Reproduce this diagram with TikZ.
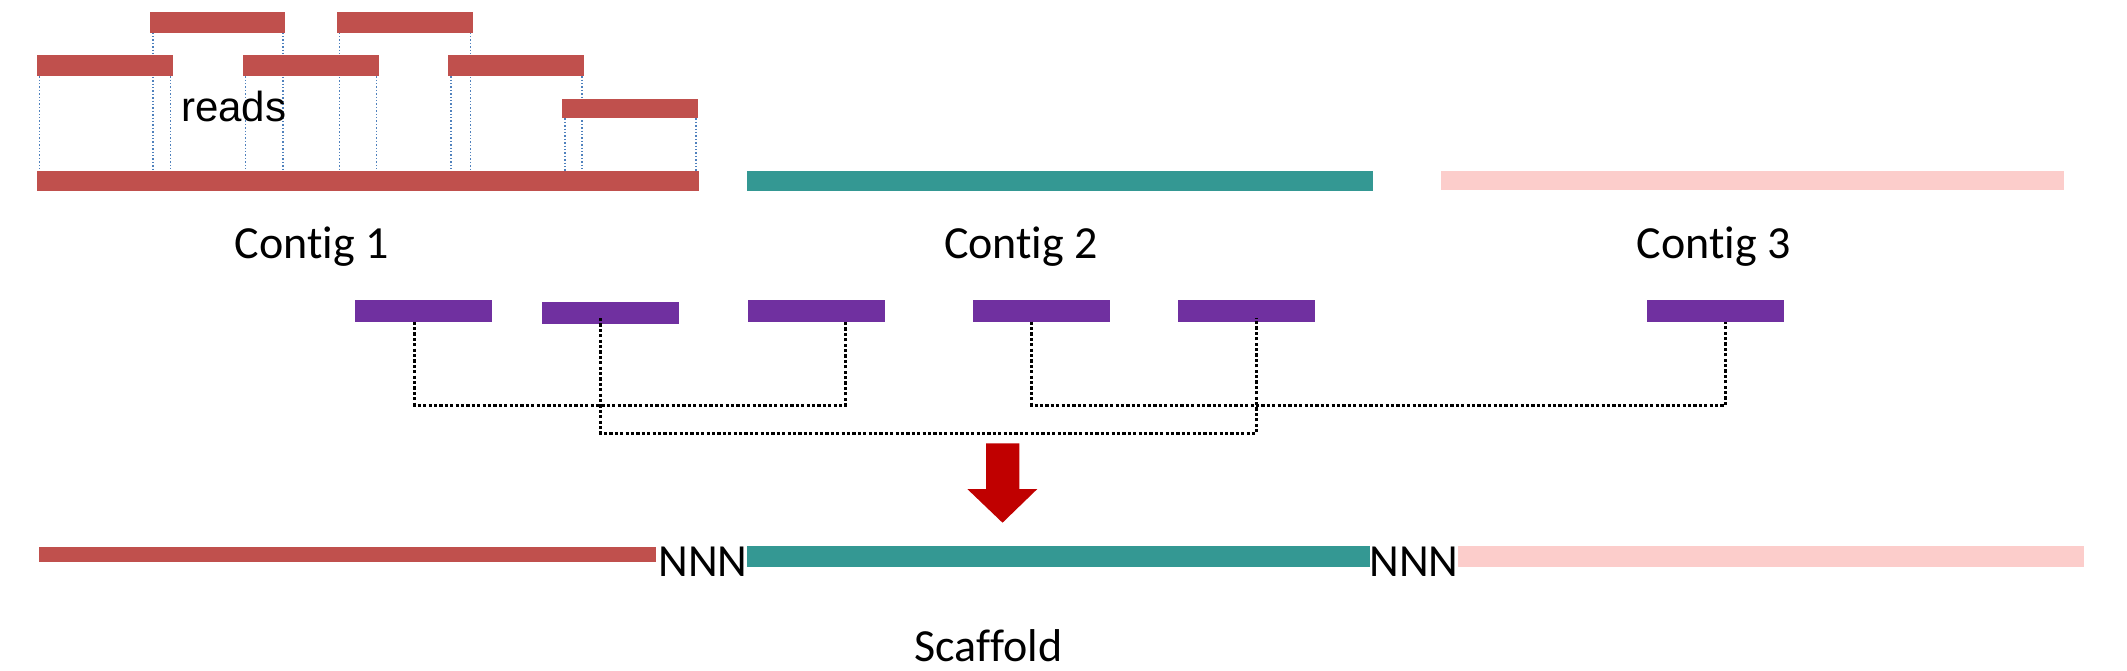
\documentclass[tikz,border=0pt]{standalone}
\usepackage{fontspec}
\setmainfont{Carlito}[Ligatures=NoCommon]
\newfontfamily\arialfont{Liberation Sans}
\usetikzlibrary{calc}
\definecolor{readred}{HTML}{C0504D}
\definecolor{contigteal}{HTML}{349893}
\definecolor{contigpink}{HTML}{FCCDCB}
\definecolor{pairpurple}{HTML}{7030A0}
\definecolor{arrowred}{HTML}{C00000}
\definecolor{guideblue}{HTML}{4F81BD}
\pgfdeclarelayer{background}
\pgfsetlayers{background,main}
\begin{document}
\begin{tikzpicture}[x=1pt,y=-1pt,
  bar/.style={rectangle, inner sep=0pt, outer sep=0pt, draw=none, minimum height=21pt},
  readbar/.style={bar, fill=readred, minimum width=136pt},
  contigbar/.style={bar, minimum height=19.5pt},
  pairbar/.style={bar, fill=pairpurple, minimum width=137pt, minimum height=21.7pt},
  guide/.style={guideblue, line width=1.4pt, dash pattern=on 1.4pt off 2pt},
  link/.style={black, line width=3.2pt, dash pattern=on 3.2pt off 2.2pt},
  lbl/.style={font=\fontsize{46}{50}\selectfont, inner sep=0pt, anchor=base},
]
\useasboundingbox (0,0) rectangle (2127,671);

% reads
\node[readbar, minimum width=135pt] (A) at (217.9,22.2) {};
\node[readbar] (B) at (405,22.2) {};
\node[readbar] (C) at (105.2,65.8) {};
\node[readbar] (D) at (310.7,65.8) {};
\node[readbar] (E) at (516.4,65.8) {};
\node[readbar, minimum height=19.5pt] (F) at (630.3,108.7) {};

% contigs
\node[contigbar, fill=readred, minimum width=662pt] (c1) at (367.8,181.2) {};
\node[contigbar, fill=contigteal, minimum width=625.6pt] (c2) at (1060.1,181) {};
\node[contigbar, fill=contigpink, minimum width=623pt] (c3) at (1752.4,180.5) {};

% guides from reads to contig 1
\begin{pgfonlayer}{background}
\foreach \r in {A,B,C,D,E,F} {
  \draw[guide] ([xshift=2.5pt]\r.south west) -- ([xshift=2.5pt]\r.south west |- c1.north);
  \draw[guide] ([xshift=-2.5pt]\r.south east) -- ([xshift=-2.5pt]\r.south east |- c1.north);
}
\end{pgfonlayer}

\node[font=\arialfont\fontsize{42}{46}\selectfont, inner sep=0pt, anchor=base] (readslbl) at (233.7,122) {reads};

\node[lbl] (lc1) at (311.5,258.3) {Contig 1};
\node[lbl] (lc2) at (1021,258.3) {Contig 2};
\node[lbl] (lc3) at (1713.6,258.3) {Contig 3};

% read pairs
\node[pairbar] (p1) at (423.1,310.8) {};
\node[pairbar] (p2) at (610.3,313.2) {};
\node[pairbar] (p3) at (816.4,310.8) {};
\node[pairbar] (p4) at (1041.5,310.8) {};
\node[pairbar] (p5) at (1246.9,310.8) {};
\node[pairbar] (p6) at (1715.3,311.2) {};

% pair links
\draw[link] ([xshift=-8.3pt]p1.south) -- ++(0,83.5) -| ([xshift=29pt]p3.south);
\draw[link] ([xshift=-9.9pt,yshift=6pt]p2.south) -- ++(0,115.3) -| ([xshift=9.2pt,yshift=3.6pt]p5.south);
\draw[link] ([xshift=-9.9pt]p4.south) -- ++(0,83.5) -| ([xshift=10.2pt]p6.south);

% arrow
\fill[arrowred] (986,443.3) -- (1019.3,443.3) -- (1019.3,489) -- (1037.3,489)
  -- (1002.5,522.7) -- (967.3,489) -- (986,489) -- cycle;

% scaffold
\node[bar, fill=readred, minimum width=617.4pt, minimum height=15pt] (s1) at (347.3,554.8) {};
\node[bar, fill=contigteal, minimum width=623pt] (s2) at (1058.5,556.2) {};
\node[bar, fill=contigpink, minimum width=626pt] (s3) at (1771,556.2) {};
\node[lbl] (n1) at (703,576) {NNN};
\node[lbl] (n2) at (1414,576) {NNN};
\node[lbl] (scaf) at (988.5,661.7) {Scaffold};
\end{tikzpicture}
\end{document}
